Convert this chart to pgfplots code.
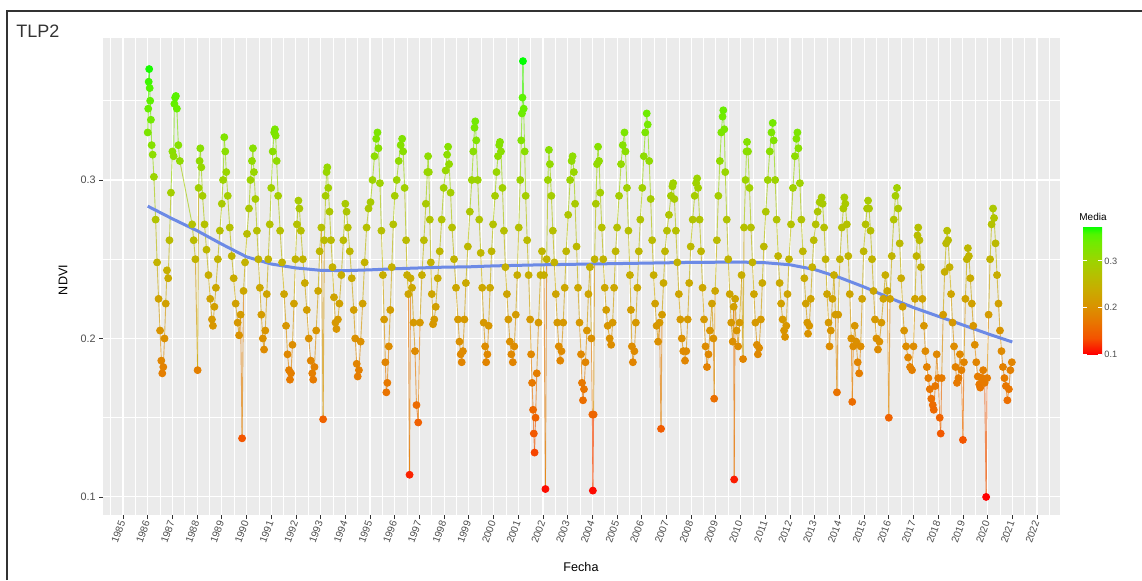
\documentclass[border=0pt]{standalone}
\usepackage{fontspec}
\setmainfont{Liberation Sans}
\usepackage{pgfplots}
\usepackage{pgfplotstable}
\pgfplotsset{compat=1.18}
\pgfkeys{/pgf/number format/assume math mode=true,/pgf/number format/1000 sep={}}
\definecolor{panelgray}{HTML}{EBEBEB}
\definecolor{labgray}{HTML}{4D4D4D}
\definecolor{tickgray}{HTML}{333333}
\definecolor{smoothblue}{HTML}{6C8AE6}
\pgfplotsset{colormap={ggrg}{rgb255(0cm)=(255,0,0) rgb255(2cm)=(244,83,0) rgb255(4cm)=(232,118,0) rgb255(6cm)=(217,147,0) rgb255(8cm)=(201,171,0) rgb255(10cm)=(180,193,0) rgb255(12cm)=(152,215,0) rgb255(14cm)=(112,235,0) rgb255(15cm)=(81,245,0) rgb255(16cm)=(0,255,0)}}

\pgfplotstableread{
t v
1986.00 0.330
1986.02 0.345
1986.04 0.362
1986.06 0.370
1986.08 0.358
1986.10 0.350
1986.13 0.338
1986.16 0.322
1986.20 0.316
1986.25 0.302
1986.32 0.275
1986.38 0.248
1986.44 0.225
1986.50 0.205
1986.55 0.186
1986.59 0.178
1986.63 0.182
1986.68 0.200
1986.73 0.222
1986.78 0.243
1986.83 0.238
1986.88 0.262
1986.94 0.292
1987.00 0.318
1987.05 0.315
1987.08 0.348
1987.11 0.352
1987.14 0.353
1987.18 0.345
1987.24 0.322
1987.30 0.312
1987.80 0.272
1987.86 0.262
1987.93 0.250
1988.02 0.180
1988.06 0.295
1988.10 0.312
1988.13 0.320
1988.17 0.308
1988.22 0.290
1988.30 0.272
1988.38 0.256
1988.46 0.240
1988.53 0.225
1988.60 0.212
1988.64 0.208
1988.70 0.220
1988.76 0.232
1988.84 0.250
1988.92 0.268
1989.00 0.285
1989.05 0.300
1989.10 0.327
1989.14 0.318
1989.18 0.305
1989.24 0.290
1989.32 0.270
1989.40 0.252
1989.48 0.238
1989.56 0.222
1989.64 0.210
1989.70 0.202
1989.76 0.215
1989.82 0.137
1989.88 0.230
1989.94 0.248
1990.02 0.266
1990.10 0.282
1990.16 0.300
1990.22 0.312
1990.26 0.320
1990.30 0.305
1990.36 0.288
1990.42 0.268
1990.48 0.250
1990.54 0.232
1990.60 0.215
1990.66 0.200
1990.71 0.193
1990.76 0.205
1990.82 0.228
1990.88 0.250
1990.94 0.272
1991.00 0.295
1991.06 0.318
1991.12 0.330
1991.15 0.332
1991.18 0.328
1991.22 0.312
1991.28 0.290
1991.36 0.268
1991.44 0.248
1991.52 0.228
1991.60 0.208
1991.66 0.190
1991.72 0.180
1991.76 0.174
1991.80 0.178
1991.86 0.196
1991.92 0.222
1991.98 0.250
1992.04 0.272
1992.10 0.287
1992.14 0.282
1992.20 0.268
1992.28 0.250
1992.36 0.235
1992.44 0.218
1992.52 0.200
1992.60 0.186
1992.66 0.178
1992.70 0.174
1992.75 0.182
1992.82 0.205
1992.90 0.230
1992.96 0.255
1993.03 0.270
1993.10 0.149
1993.15 0.262
1993.20 0.290
1993.24 0.305
1993.27 0.308
1993.31 0.295
1993.36 0.280
1993.42 0.262
1993.48 0.245
1993.54 0.226
1993.60 0.210
1993.64 0.206
1993.70 0.212
1993.76 0.222
1993.84 0.240
1993.92 0.262
1994.00 0.285
1994.05 0.280
1994.10 0.270
1994.18 0.255
1994.26 0.238
1994.34 0.218
1994.40 0.200
1994.46 0.184
1994.50 0.176
1994.55 0.180
1994.62 0.198
1994.70 0.222
1994.78 0.248
1994.86 0.270
1994.94 0.282
1995.02 0.286
1995.10 0.300
1995.18 0.315
1995.25 0.326
1995.30 0.330
1995.34 0.320
1995.40 0.298
1995.46 0.268
1995.52 0.240
1995.57 0.212
1995.62 0.185
1995.66 0.166
1995.70 0.172
1995.76 0.195
1995.82 0.218
1995.88 0.245
1995.94 0.272
1996.00 0.290
1996.08 0.300
1996.16 0.312
1996.24 0.322
1996.30 0.326
1996.34 0.318
1996.40 0.295
1996.46 0.262
1996.50 0.240
1996.55 0.228
1996.60 0.114
1996.64 0.238
1996.70 0.232
1996.76 0.210
1996.82 0.192
1996.88 0.158
1996.95 0.147
1997.02 0.210
1997.10 0.240
1997.18 0.262
1997.26 0.285
1997.32 0.305
1997.35 0.315
1997.38 0.305
1997.42 0.275
1997.46 0.248
1997.50 0.228
1997.55 0.209
1997.60 0.212
1997.66 0.220
1997.74 0.238
1997.82 0.255
1997.90 0.275
1997.98 0.295
1998.06 0.306
1998.12 0.316
1998.16 0.321
1998.20 0.310
1998.26 0.292
1998.32 0.270
1998.40 0.250
1998.48 0.232
1998.56 0.212
1998.62 0.198
1998.67 0.190
1998.71 0.185
1998.76 0.192
1998.82 0.212
1998.88 0.235
1998.96 0.258
1999.04 0.280
1999.12 0.300
1999.18 0.318
1999.23 0.333
1999.26 0.337
1999.30 0.325
1999.36 0.300
1999.42 0.275
1999.48 0.254
1999.54 0.232
1999.60 0.210
1999.66 0.195
1999.70 0.185
1999.75 0.190
1999.80 0.208
1999.86 0.232
1999.92 0.255
1999.98 0.272
2000.06 0.290
2000.12 0.305
2000.18 0.315
2000.23 0.322
2000.26 0.324
2000.30 0.318
2000.36 0.295
2000.42 0.268
2000.48 0.245
2000.54 0.228
2000.60 0.212
2000.66 0.198
2000.72 0.190
2000.78 0.185
2000.84 0.195
2000.90 0.215
2000.96 0.240
2001.02 0.270
2001.08 0.300
2001.12 0.325
2001.15 0.342
2001.17 0.352
2001.19 0.375
2001.22 0.345
2001.26 0.318
2001.30 0.290
2001.36 0.262
2001.42 0.240
2001.48 0.212
2001.52 0.190
2001.56 0.172
2001.60 0.155
2001.63 0.140
2001.66 0.128
2001.70 0.150
2001.75 0.178
2001.82 0.210
2001.90 0.240
2001.96 0.255
2002.04 0.240
2002.10 0.105
2002.15 0.250
2002.20 0.300
2002.24 0.319
2002.28 0.310
2002.34 0.290
2002.40 0.268
2002.46 0.248
2002.52 0.228
2002.58 0.210
2002.64 0.195
2002.70 0.186
2002.75 0.192
2002.82 0.210
2002.88 0.232
2002.94 0.255
2003.02 0.278
2003.10 0.300
2003.16 0.312
2003.20 0.315
2003.25 0.305
2003.30 0.285
2003.36 0.258
2003.42 0.232
2003.48 0.210
2003.54 0.190
2003.58 0.172
2003.62 0.161
2003.66 0.168
2003.72 0.185
2003.78 0.205
2003.84 0.228
2003.90 0.245
2003.96 0.200
2004.00 0.152
2004.02 0.104
2004.05 0.152
2004.09 0.250
2004.14 0.285
2004.19 0.310
2004.23 0.321
2004.27 0.312
2004.32 0.292
2004.38 0.270
2004.44 0.250
2004.50 0.232
2004.56 0.218
2004.62 0.208
2004.70 0.200
2004.76 0.196
2004.82 0.210
2004.88 0.232
2004.94 0.255
2005.00 0.270
2005.08 0.290
2005.16 0.310
2005.23 0.322
2005.30 0.330
2005.34 0.318
2005.40 0.295
2005.46 0.268
2005.52 0.240
2005.56 0.218
2005.60 0.195
2005.64 0.185
2005.70 0.192
2005.76 0.210
2005.82 0.232
2005.88 0.255
2005.94 0.275
2006.02 0.295
2006.08 0.315
2006.14 0.330
2006.20 0.342
2006.24 0.335
2006.30 0.312
2006.36 0.288
2006.42 0.262
2006.48 0.240
2006.54 0.222
2006.60 0.208
2006.66 0.198
2006.72 0.210
2006.78 0.143
2006.82 0.215
2006.88 0.235
2006.94 0.255
2007.02 0.268
2007.10 0.278
2007.18 0.290
2007.24 0.296
2007.27 0.298
2007.32 0.288
2007.38 0.268
2007.44 0.248
2007.50 0.228
2007.56 0.212
2007.62 0.200
2007.68 0.192
2007.75 0.186
2007.80 0.192
2007.86 0.212
2007.92 0.235
2007.98 0.258
2008.06 0.275
2008.14 0.290
2008.20 0.298
2008.24 0.301
2008.28 0.295
2008.34 0.275
2008.40 0.255
2008.46 0.232
2008.52 0.212
2008.58 0.195
2008.64 0.182
2008.70 0.190
2008.76 0.205
2008.84 0.222
2008.90 0.200
2008.93 0.162
2008.97 0.230
2009.04 0.262
2009.10 0.290
2009.16 0.312
2009.22 0.330
2009.27 0.340
2009.30 0.344
2009.34 0.332
2009.38 0.305
2009.44 0.275
2009.50 0.250
2009.56 0.228
2009.62 0.210
2009.68 0.198
2009.72 0.220
2009.74 0.111
2009.78 0.225
2009.84 0.205
2009.90 0.195
2009.96 0.210
2010.04 0.240
2010.10 0.187
2010.14 0.270
2010.20 0.300
2010.24 0.318
2010.26 0.324
2010.30 0.318
2010.36 0.295
2010.42 0.270
2010.48 0.248
2010.54 0.228
2010.60 0.210
2010.66 0.196
2010.70 0.190
2010.75 0.194
2010.82 0.212
2010.88 0.235
2010.94 0.258
2011.02 0.280
2011.10 0.300
2011.18 0.318
2011.25 0.330
2011.30 0.336
2011.34 0.325
2011.40 0.300
2011.46 0.275
2011.52 0.252
2011.58 0.235
2011.64 0.222
2011.70 0.212
2011.76 0.205
2011.80 0.201
2011.85 0.208
2011.90 0.228
2011.96 0.250
2012.04 0.272
2012.12 0.295
2012.20 0.315
2012.26 0.326
2012.30 0.330
2012.34 0.320
2012.40 0.298
2012.46 0.275
2012.52 0.255
2012.58 0.238
2012.64 0.222
2012.70 0.210
2012.73 0.203
2012.78 0.208
2012.84 0.225
2012.90 0.245
2012.96 0.262
2013.04 0.272
2013.12 0.280
2013.20 0.286
2013.28 0.289
2013.32 0.285
2013.38 0.270
2013.44 0.250
2013.50 0.228
2013.56 0.210
2013.60 0.195
2013.65 0.205
2013.72 0.225
2013.78 0.240
2013.84 0.215
2013.90 0.166
2013.95 0.215
2014.02 0.250
2014.10 0.270
2014.16 0.282
2014.20 0.289
2014.24 0.285
2014.30 0.272
2014.36 0.252
2014.42 0.228
2014.48 0.200
2014.52 0.160
2014.56 0.195
2014.62 0.208
2014.68 0.198
2014.74 0.185
2014.80 0.178
2014.86 0.195
2014.92 0.225
2014.98 0.255
2015.06 0.272
2015.12 0.282
2015.16 0.287
2015.20 0.282
2015.26 0.268
2015.32 0.250
2015.38 0.230
2015.44 0.212
2015.50 0.200
2015.56 0.193
2015.62 0.198
2015.70 0.210
2015.78 0.225
2015.86 0.240
2015.94 0.230
2016.00 0.150
2016.05 0.225
2016.12 0.252
2016.20 0.275
2016.27 0.290
2016.33 0.295
2016.38 0.282
2016.44 0.260
2016.50 0.238
2016.56 0.220
2016.62 0.205
2016.70 0.195
2016.78 0.188
2016.86 0.182
2016.94 0.180
2017.00 0.195
2017.06 0.225
2017.12 0.252
2017.16 0.265
2017.19 0.270
2017.24 0.262
2017.30 0.245
2017.36 0.225
2017.42 0.208
2017.48 0.192
2017.54 0.182
2017.60 0.175
2017.66 0.168
2017.72 0.162
2017.78 0.158
2017.82 0.155
2017.88 0.170
2017.94 0.190
2018.00 0.175
2018.06 0.150
2018.10 0.140
2018.14 0.175
2018.20 0.215
2018.26 0.242
2018.32 0.260
2018.36 0.268
2018.40 0.262
2018.46 0.245
2018.52 0.228
2018.58 0.210
2018.64 0.195
2018.70 0.182
2018.76 0.172
2018.82 0.175
2018.88 0.190
2018.94 0.180
2019.00 0.136
2019.04 0.185
2019.10 0.225
2019.16 0.250
2019.20 0.257
2019.24 0.252
2019.30 0.238
2019.36 0.222
2019.42 0.208
2019.48 0.196
2019.54 0.185
2019.60 0.176
2019.66 0.171
2019.70 0.169
2019.76 0.175
2019.82 0.180
2019.88 0.172
2019.94 0.100
2019.98 0.175
2020.04 0.215
2020.10 0.250
2020.16 0.272
2020.22 0.282
2020.26 0.276
2020.32 0.260
2020.38 0.240
2020.44 0.222
2020.50 0.205
2020.56 0.192
2020.62 0.182
2020.68 0.175
2020.74 0.170
2020.80 0.161
2020.86 0.168
2020.92 0.180
2020.98 0.185
}\ndvi

\pgfplotstableread{
t v
1986.0 0.2835
1987.0 0.2755
1988.0 0.2680
1989.0 0.2595
1990.0 0.2515
1991.0 0.2470
1992.0 0.2445
1993.0 0.2430
1994.0 0.2428
1995.0 0.2433
1996.0 0.2440
1997.0 0.2445
1998.0 0.2450
1999.0 0.2452
2000.0 0.2458
2002.0 0.2465
2004.0 0.2470
2006.0 0.2475
2008.0 0.2480
2010.0 0.2482
2011.0 0.2478
2012.0 0.2465
2013.0 0.2435
2014.0 0.2385
2015.0 0.2325
2016.0 0.2258
2017.0 0.2195
2018.0 0.2140
2019.0 0.2085
2020.0 0.2030
2021.0 0.1978
}\smooth

\begin{document}
\begin{tikzpicture}
\path[use as bounding box] (0,0) rectangle (571pt,-290pt);
\draw[line width=1pt, black!80] (3.5pt,-290pt) -- (3.5pt,-5.5pt) -- (571pt,-5.5pt);
\node[anchor=west, font=\fontsize{9}{10}\selectfont, text=black!80, inner sep=0pt] at (8pt,-15.5pt) {TLP2};
\begin{axis}[
  at={(51.5pt,-257.5pt)}, anchor=south west,
  scale only axis, width=478.5pt, height=238.5pt,
  xmin=1984.19, xmax=2022.93, ymin=0.0886, ymax=0.3896,
  axis background/.style={fill=panelgray},
  axis line style={draw=none},
  xtick={1985,1986,...,2022},
  minor xtick={1984.5,1985.5,...,2022.5},
  ytick={0.1,0.2,0.3},
  minor ytick={0.15,0.25,0.35},
  grid=both,
  major grid style={white, line width=0.55pt},
  minor grid style={white, line width=0.3pt},
  tick align=outside, major tick length=2pt, minor tick length=0pt,
  tick style={color=tickgray, line width=0.4pt},
  xtick pos=left, ytick pos=left,
  xticklabel style={rotate=70, anchor=east, font=\fontsize{5.1}{6}\selectfont, text=labgray, inner sep=1pt},
  yticklabel style={font=\fontsize{5.4}{6}\selectfont, text=labgray, inner sep=1.5pt},
  colormap name=ggrg,
  point meta min=0.1, point meta max=0.375,
  colorbar,
  colorbar style={
    at={(parent axis.north east)}, anchor=north west,
    xshift=3pt, yshift=-94pt,
    scale only axis,
    width=9.5pt, height=64pt,
    axis line style={draw=none},
    ytick={0.1,0.2,0.3},
    yticklabel style={font=\fontsize{4.6}{5}\selectfont, text=labgray, inner sep=1pt},
    major tick length=2pt, tick align=inside,
    ytick style={draw=white, line width=0.5pt},
    ytick pos=both, yticklabel pos=right,
  },
]
\addplot[mesh, point meta=\thisrow{v}, line width=0.45pt, opacity=0.65] table[x=t, y=v] {\ndvi};
\addplot[scatter, only marks, mark=*, mark size=1.75pt, point meta=\thisrow{v},
  scatter/use mapped color={draw=mapped color, fill=mapped color}] table[x=t, y=v] {\ndvi};
\addplot[smoothblue, line width=1.5pt, no marks] table[x=t, y=v] {\smooth};
\end{axis}
\node[rotate=90, font=\fontsize{6.3}{7}\selectfont] at (31.5pt,-140pt) {NDVI};
\node[font=\fontsize{6.3}{7}\selectfont] at (290.5pt,-283.5pt) {Fecha};
\node[anchor=south west, font=\fontsize{5}{6}\selectfont, inner sep=0pt] at (539.5pt,-110.5pt) {Media};
\end{tikzpicture}
\end{document}
